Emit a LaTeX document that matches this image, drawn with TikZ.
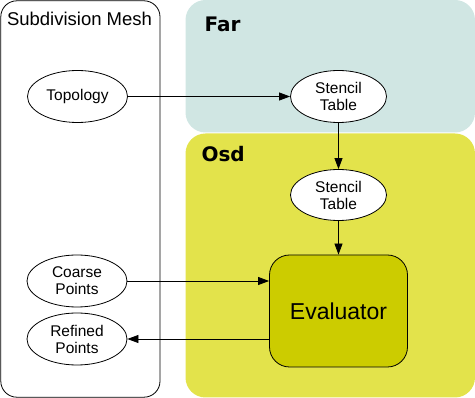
\documentclass[tikz,border=0pt]{standalone}
\usepackage{fontspec}
\setmainfont{Liberation Sans}
\newfontfamily\headfont{DejaVu Sans}
\usetikzlibrary{arrows.meta, shapes.geometric}
\definecolor{farteal}{HTML}{D0E6E3}
\definecolor{osdyellow}{HTML}{E3E34B}
\definecolor{evalolive}{HTML}{CCCC00}
\begin{document}
\begin{tikzpicture}[
  x=1pt, y=-1pt,
  oval/.style={ellipse, draw, thick, fill=white, minimum width=100pt, minimum height=52pt, inner sep=0pt, align=center, font=\fontsize{15.5}{17}\selectfont},
  evalbox/.style={rectangle, draw, thick, fill=evalolive, rounded corners=20pt, minimum width=138pt, minimum height=112pt, font=\fontsize{23}{26}\selectfont},
  flow/.style={-{Triangle[length=11pt, width=8pt]}, thick},
  grouplabel/.style={font=\headfont\bfseries\fontsize{20}{24}\selectfont, anchor=base west},
]
  \useasboundingbox (0, 0) rectangle (475, 398);

  % package areas
  \fill[farteal, rounded corners=20pt] (185.5, 0) rectangle (475, 132.5);
  \fill[osdyellow, rounded corners=20pt] (185.5, 133.5) rectangle (475, 397.5);
  \draw[thick, rounded corners=16pt] (0.8, 0.8) rectangle (160, 397.2);

  \node[font=\fontsize{18.5}{20}\selectfont, anchor=base] (meshlabel) at (79.5, 26) {Subdivision Mesh};
  \node[grouplabel] (farlabel) at (201, 32) {Far};
  \node[grouplabel] (osdlabel) at (198, 162) {Osd};

  % nodes
  \node[oval] (topology) at (77.5, 96.5) {Topology};
  \node[oval] (coarse) at (77, 281) {Coarse\\Points};
  \node[oval] (refined) at (77, 339) {Refined\\Points};
  \node[oval, minimum width=96pt] (farstencil) at (338.5, 96.5) {Stencil\\Table};
  \node[oval, minimum width=96pt, minimum height=51pt] (osdstencil) at (338.5, 195) {Stencil\\Table};
  \node[evalbox] (evaluator) at (338.5, 311) {Evaluator};

  % connectors
  \draw[flow] (topology) -- (farstencil);
  \draw[flow] (farstencil) -- (osdstencil);
  \draw[flow] (osdstencil) -- (evaluator);
  \draw[flow] (coarse.east) -- (evaluator.west |- coarse.east);
  \draw[flow] (evaluator.west |- refined.east) -- (refined.east);
\end{tikzpicture}
\end{document}
